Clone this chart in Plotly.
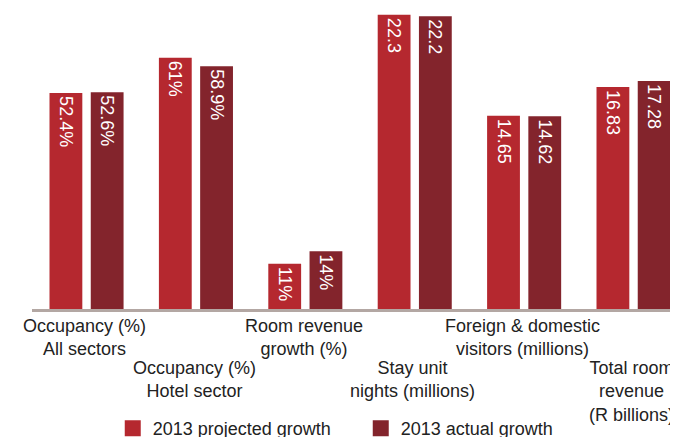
import plotly.graph_objects as go

categories = ["Occupancy (%)<br>All sectors", "Occupancy (%)<br>Hotel sector",
              "Room revenue<br>growth (%)", "Stay unit<br>nights (millions)",
              "Foreign & domestic<br>visitors (millions)", "Total room<br>revenue<br>(R billions)"]
units = ["pct", "pct", "pct", "mil", "mil", "mil"]
label_row = [0, 1, 0, 1, 0, 1]
projected = [52.4, 61, 11, 22.3, 14.65, 16.83]
actual = [52.6, 58.9, 14, 22.2, 14.62, 17.28]
series_names = ["2013 projected growth", "2013 actual growth"]

RED = "#b5282f"
DARK = "#83242c"
FONT = "Liberation Sans, Arial, sans-serif"

# the page body has an 8px margin, so the figure is 8px smaller each way
PLOT_H = 301


def fmt(v, u):
    return f"{v:g}%" if u == "pct" else f"{v:g}"


fig = go.Figure()
for vals, color, offset in [(projected, RED, -0.34), (actual, DARK, 0.037)]:
    for unit, axis in [("pct", "y"), ("mil", "y2")]:
        idx = [i for i, u in enumerate(units) if u == unit]
        fig.add_trace(go.Bar(
            x=[categories[i] for i in idx],
            y=[vals[i] for i in idx],
            text=[fmt(vals[i], unit) for i in idx],
            yaxis=axis,
            width=0.30, offset=offset,
            marker=dict(color=color, line=dict(width=0)),
            textposition="inside", insidetextanchor="end", textangle=90,
            textfont=dict(family=FONT, size=18, color="white"),
            cliponaxis=False, showlegend=False))

# legend entries
for name, color in zip(series_names, [RED, DARK]):
    fig.add_trace(go.Scatter(x=[None], y=[None], mode="markers", name=name,
                             marker=dict(symbol="square", size=16, color=color)))

for cat, row in zip(categories, label_row):
    fig.add_annotation(x=cat, y=0, xref="x", yref="paper", text=cat,
                       showarrow=False, yanchor="top", yshift=-5 - 42 * row,
                       xshift=-2,
                       font=dict(family=FONT, size=18, color="#222222"))

fig.update_layout(
    width=670, height=429,
    margin=dict(l=24, r=0, t=0, b=429 - PLOT_H, autoexpand=False),
    paper_bgcolor="white", plot_bgcolor="white",
    barmode="overlay",
    xaxis=dict(type="category", categoryorder="array", categoryarray=categories,
               range=[-0.5, 5.405], showticklabels=False, ticks="",
               showgrid=False, showline=True, linecolor="#b3a7a3", linewidth=3),
    yaxis=dict(range=[0, PLOT_H / 4.12], visible=False, showgrid=False),
    yaxis2=dict(range=[0, PLOT_H / 13.19], visible=False, showgrid=False,
                overlaying="y"),
    legend=dict(orientation="h", x=0.125, xanchor="left", y=-0.397, yanchor="middle",
                font=dict(family=FONT, size=18, color="#222222"),
                itemsizing="trace", traceorder="normal",
                entrywidth=203, entrywidthmode="pixels"),
)

fig.write_html("out.html")
